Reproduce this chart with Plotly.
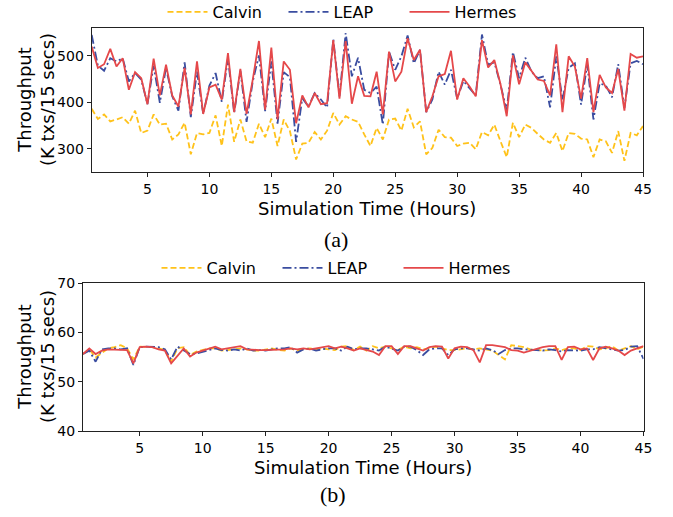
import plotly.graph_objects as go

W, H = 673, 517

# ---------------- data ----------------
hours = [0.5 * i for i in range(1, 91)]  # 0.5 .. 45 h

calvin_a = [386, 364, 374, 359, 363, 368, 354, 382, 334, 339,
            374, 352, 354, 320, 331, 356, 288, 334, 331, 334,
            372, 306, 395, 315, 363, 316, 313, 354, 325, 365,
            306, 363, 338, 277, 311, 313, 336, 320, 339, 377,
            352, 370, 363, 358, 331, 306, 345, 320, 363, 365,
            339, 386, 346, 359, 288, 302, 341, 325, 324, 306,
            311, 313, 299, 336, 329, 352, 316, 282, 356, 325,
            352, 345, 332, 320, 313, 334, 295, 334, 332, 322,
            320, 282, 320, 316, 291, 338, 274, 334, 329, 349]
leap_a = [545, 479, 468, 495, 488, 495, 445, 463, 449, 396,
          479, 399, 474, 413, 382, 486, 368, 466, 375, 436,
          463, 401, 495, 377, 468, 358, 445, 501, 381, 488,
          354, 465, 454, 315, 409, 391, 420, 406, 389, 536,
          413, 549, 456, 496, 427, 420, 434, 352, 509, 470,
          499, 544, 484, 513, 379, 406, 466, 438, 470, 408,
          446, 431, 415, 546, 481, 486, 438, 382, 508, 452,
          496, 466, 452, 456, 389, 499, 406, 474, 484, 395,
          481, 363, 441, 436, 411, 482, 388, 484, 489, 482]
hermes_a = [520, 474, 482, 515, 477, 495, 427, 465, 452, 396,
            494, 415, 481, 415, 391, 474, 374, 488, 375, 432,
            438, 406, 506, 379, 472, 375, 449, 532, 384, 518,
            363, 488, 470, 355, 415, 389, 420, 396, 398, 534,
            408, 532, 397, 456, 414, 413, 466, 374, 509, 445,
            466, 538, 491, 513, 379, 413, 456, 461, 511, 406,
            452, 434, 413, 534, 475, 491, 439, 370, 501, 439,
            486, 468, 449, 446, 415, 525, 379, 499, 477, 408,
            495, 379, 459, 432, 420, 472, 382, 504, 496, 499]

calvin_b = [55.6, 56.55, 54.9, 55.9, 56.75, 57.0, 57.4, 56.75, 54.5, 57.1,
            57.1, 57.0, 56.75, 56.4, 54.05, 56.75, 57.0, 55.4, 56.1, 56.4,
            56.75, 56.75, 56.3, 56.4, 56.55, 56.75, 56.55, 56.3, 56.3, 56.55,
            56.75, 56.4, 56.3, 56.75, 56.3, 56.55, 56.75, 56.55, 56.75, 56.55,
            56.4, 57.1, 57.2, 56.4, 57.1, 56.3, 57.2, 56.75, 57.1, 56.75,
            56.4, 57.1, 56.75, 57.0, 56.55, 56.75, 57.1, 56.75, 56.4, 56.4,
            56.55, 56.75, 56.55, 56.75, 56.55, 56.3, 55.4, 54.5, 57.4, 57.2,
            57.0, 56.55, 56.4, 56.3, 56.4, 56.75, 56.4, 56.75, 56.75, 56.4,
            57.2, 57.1, 56.55, 56.75, 57.2, 56.3, 56.75, 57.2, 56.55, 57.1]
leap_b = [55.6, 56.3, 54.05, 56.55, 56.75, 56.75, 56.55, 56.75, 53.4, 57.0,
          57.1, 57.1, 57.0, 56.55, 54.5, 57.1, 56.3, 55.6, 55.7, 56.1,
          56.4, 56.75, 56.4, 56.3, 56.55, 56.3, 56.75, 56.3, 56.4, 56.3,
          56.55, 56.75, 56.75, 57.0, 55.9, 56.55, 56.75, 56.3, 56.55, 56.75,
          56.75, 56.3, 57.1, 56.55, 56.75, 56.75, 56.55, 56.3, 57.1, 56.75,
          56.3, 57.1, 57.1, 56.4, 55.4, 56.55, 56.75, 56.75, 55.4, 56.55,
          56.75, 56.75, 56.55, 56.3, 56.75, 56.4, 55.6, 56.4, 56.75, 56.75,
          56.55, 56.4, 56.4, 56.3, 56.55, 56.4, 56.1, 56.4, 56.4, 56.3,
          56.55, 56.55, 57.0, 56.75, 56.4, 56.3, 56.4, 57.1, 57.2, 54.6]
hermes_b = [55.6, 56.75, 55.6, 56.3, 56.55, 56.55, 56.55, 56.4, 53.7, 57.0,
            57.1, 57.0, 56.55, 56.3, 53.7, 55.2, 56.75, 55.1, 55.9, 56.3,
            56.75, 57.1, 56.55, 56.75, 57.0, 57.2, 56.55, 56.4, 56.4, 56.4,
            56.4, 56.55, 56.55, 56.75, 56.55, 56.75, 56.55, 56.75, 57.0, 57.2,
            56.75, 57.1, 56.75, 56.3, 56.75, 56.4, 56.1, 55.4, 57.2, 57.2,
            55.6, 57.2, 57.2, 56.75, 56.3, 57.0, 57.2, 57.1, 54.7, 56.75,
            57.1, 57.0, 56.4, 53.9, 57.4, 57.4, 57.2, 57.0, 56.4, 56.3,
            55.9, 56.3, 56.75, 57.0, 57.2, 57.2, 54.4, 57.0, 57.1, 56.55,
            56.75, 54.4, 56.75, 57.1, 56.75, 56.3, 55.4, 56.3, 56.75, 57.2]

x_ticks = [5, 10, 15, 20, 25, 30, 35, 40, 45]
y_ticks_a = [300, 400, 500]
y_ticks_b = [40, 50, 60, 70]
series_names = ["Calvin", "LEAP", "Hermes"]

# ---------------- styles ----------------
FONT = "DejaVu Sans"
colors = {"Calvin": "#FFC21A", "LEAP": "#3A4DA0", "Hermes": "#E5484A"}
dashes = {"Calvin": "6px,3px", "LEAP": "9px,3px,2px,3px", "Hermes": "solid"}


def px_x(p):
    return p / W


def px_y(p):
    return 1 - p / H


fig = go.Figure()
for name, ya in zip(series_names, [calvin_a, leap_a, hermes_a]):
    fig.add_trace(go.Scatter(x=hours, y=ya, name=name, mode="lines",
                             line=dict(color=colors[name], width=1.8, dash=dashes[name]),
                             xaxis="x", yaxis="y", legend="legend"))
for name, yb in zip(series_names, [calvin_b, leap_b, hermes_b]):
    fig.add_trace(go.Scatter(x=hours, y=yb, name=name, mode="lines",
                             line=dict(color=colors[name], width=1.8, dash=dashes[name]),
                             xaxis="x2", yaxis="y2", legend="legend2"))

axis_common = dict(showline=True, mirror=True, linecolor="#222", linewidth=1.2,
                   ticks="outside", ticklen=4, tickcolor="#222", tickwidth=1.2,
                   showgrid=False, zeroline=False,
                   tickfont=dict(family=FONT, size=14, color="black"))

legend_common = dict(orientation="h", xanchor="center", yanchor="middle",
                     font=dict(family=FONT, size=16), bgcolor="rgba(0,0,0,0)",
                     entrywidth=66, itemwidth=40)

fig.update_layout(
    width=W, height=H,
    margin=dict(l=0, r=0, t=0, b=0, autoexpand=False),
    paper_bgcolor="white", plot_bgcolor="white",
    font=dict(family=FONT, color="black"),
    xaxis=dict(domain=[px_x(91.7), px_x(643)], range=[0.5, 45], tickvals=x_ticks,
               anchor="y", **axis_common),
    yaxis=dict(domain=[px_y(172), px_y(28)], range=[250, 560], tickvals=y_ticks_a,
               anchor="x", **axis_common),
    xaxis2=dict(domain=[px_x(83), px_x(643.5)], range=[0.5, 45], tickvals=x_ticks,
                anchor="y2", **axis_common),
    yaxis2=dict(domain=[px_y(431), px_y(283)], range=[40, 70], tickvals=y_ticks_b,
                anchor="x2", **axis_common),
    legend=dict(x=px_x(344), y=px_y(12), **legend_common),
    legend2=dict(x=px_x(338), y=px_y(268), **legend_common),
    showlegend=True,
)

ann = []
ytitle = "Throughput<br>(K txs/15 secs)"
ann.append(dict(text=ytitle, x=px_x(36), y=px_y(100), xref="paper", yref="paper",
                textangle=-90, showarrow=False, xanchor="center", yanchor="middle",
                font=dict(family=FONT, size=18)))
ann.append(dict(text=ytitle, x=px_x(36), y=px_y(357), xref="paper", yref="paper",
                textangle=-90, showarrow=False, xanchor="center", yanchor="middle",
                font=dict(family=FONT, size=18)))
ann.append(dict(text="Simulation Time (Hours)", x=px_x(367), y=px_y(208), xref="paper",
                yref="paper", showarrow=False, xanchor="center", yanchor="middle",
                font=dict(family=FONT, size=18)))
ann.append(dict(text="Simulation Time (Hours)", x=px_x(363), y=px_y(467), xref="paper",
                yref="paper", showarrow=False, xanchor="center", yanchor="middle",
                font=dict(family=FONT, size=18)))
ann.append(dict(text="(a)", x=px_x(336), y=px_y(240), xref="paper", yref="paper",
                showarrow=False, xanchor="center", yanchor="middle",
                font=dict(family="Liberation Serif", size=22)))
ann.append(dict(text="(b)", x=px_x(333), y=px_y(494), xref="paper", yref="paper",
                showarrow=False, xanchor="center", yanchor="middle",
                font=dict(family="Liberation Serif", size=22)))
fig.update_layout(annotations=ann)

fig.write_html("out.html", config={"displayModeBar": False},
               post_script="document.body.style.margin='0';document.body.style.overflow='hidden';")
